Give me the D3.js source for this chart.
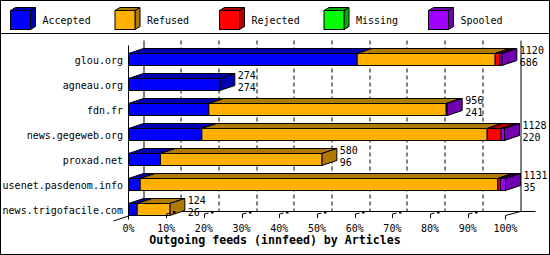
<!DOCTYPE html>
<html>
<head>
<meta charset="utf-8">
<script src="https://cdn.jsdelivr.net/npm/d3@7"></script>
<style>
  body { margin: 0; background: #fff; }
  svg text { font-family: "DejaVu Sans Mono", monospace; font-size: 10px; fill: #000; }
</style>
</head>
<body>
<div id="chart"></div>
<script>
// servers (y categories) and article counts per state
var servers = ["glou.org", "agneau.org", "fdn.fr", "news.gegeweb.org", "proxad.net", "usenet.pasdenom.info", "news.trigofacile.com"];
var accepted = [686, 274, 241, 220, 96, 35, 26];
var refused  = [414, 0, 712, 856, 484, 1073, 98];
var rejected = [14, 0, 0, 42, 0, 8, 0];
var missing  = [0, 0, 0, 0, 0, 0, 0];
var spooled  = [6, 0, 3, 10, 0, 15, 0];
var offered  = [1120, 274, 956, 1128, 580, 1131, 124];

var seriesNames = ["Accepted", "Refused", "Rejected", "Missing", "Spooled"];
var frontColors = ["#0000ff", "#ffb000", "#ff0000", "#00ff00", "#a000ff"];
var darkColors  = ["#0000b0", "#b07900", "#b00000", "#00b000", "#7000b0"];
var tickValues  = [0, 10, 20, 30, 40, 50, 60, 70, 80, 90, 100];
var xTitle = "Outgoing feeds (innfeed) by Articles";

var width = 550, height = 255;
var depthX = 15, depthY = 5;

var svg = d3.select("#chart").append("svg")
    .attr("width", width)
    .attr("height", height);

svg.append("rect")
    .attr("x", 0.5).attr("y", 0.5)
    .attr("width", width - 1).attr("height", height - 1)
    .attr("fill", "#fff").attr("stroke", "#000");

svg.append("line")
    .attr("x1", 0).attr("x2", width)
    .attr("y1", 33.5).attr("y2", 33.5)
    .attr("stroke", "#000");

// ---- legend
var legend = svg.append("g");
seriesNames.forEach(function(name, i) {
    var lx = 10.5 + i * 104.5, ly = 10.5, s = 20, sh = 19, dx = 5, dy = 3;
    var g = legend.append("g");
    g.append("polygon")
        .attr("points", [[lx, ly], [lx + s, ly], [lx + s + dx, ly - dy], [lx + dx, ly - dy]].join(" "))
        .attr("fill", darkColors[i]).attr("stroke", "#000");
    g.append("polygon")
        .attr("points", [[lx + s, ly], [lx + s + dx, ly - dy], [lx + s + dx, ly + sh - dy], [lx + s, ly + sh]].join(" "))
        .attr("fill", darkColors[i]).attr("stroke", "#000");
    g.append("rect")
        .attr("x", lx).attr("y", ly)
        .attr("width", s).attr("height", sh)
        .attr("fill", frontColors[i]).attr("stroke", "#000");
    g.append("text")
        .attr("x", lx + 32)
        .attr("y", 24)
        .text(name);
});

// ---- scales
var maxOffered = d3.max(offered);
var x = d3.scaleLinear().domain([0, 100]).range([128.5, 505.5]);
var y = d3.scaleBand().domain(servers).range([40.5, 215.5]).padding(0);
var barTop = function(d) { return y(d) + 13; };
var barH = 12;

var frontTop = 45.5, frontBottom = 216.5;
var backTop = frontTop - depthY, backBottom = frontBottom - depthY;

// ---- back walls / gridlines
var grid = svg.append("g");
grid.selectAll("line.grid")
    .data(tickValues)
    .enter().append("line")
    .attr("class", "grid")
    .attr("x1", function(d) { return Math.round(x(d) + depthX) - 0.5 + 0.5; })
    .attr("x2", function(d) { return Math.round(x(d) + depthX) - 0.5 + 0.5; })
    .attr("y1", backTop)
    .attr("y2", backBottom)
    .attr("stroke", "#000")
    .attr("stroke-dasharray", function(d) { return (d == 0 || d == 100) ? null : "4,3"; });

grid.append("line")
    .attr("x1", x(0) + depthX).attr("x2", x(100) + depthX + 15)
    .attr("y1", backBottom).attr("y2", backBottom)
    .attr("stroke", "#000");

// ---- bars
var table = servers.map(function(s, i) {
    return { server: s, Accepted: accepted[i], Refused: refused[i], Rejected: rejected[i],
             Missing: missing[i], Spooled: spooled[i] };
});
var stack = d3.stack().keys(seriesNames);
var stacked = stack(table);

var bars = svg.append("g");
servers.forEach(function(s, i) {
    stacked.forEach(function(layer, k) {
        var seg = layer[i];
        if (seg[1] - seg[0] <= 0) return;
        var x0 = x(seg[0] / maxOffered * 100), x1 = x(seg[1] / maxOffered * 100);
        var t = barTop(s), b = t + barH;
        var g = bars.append("g");
        g.append("polygon")
            .attr("points", [[x0, t], [x1, t], [x1 + depthX, t - depthY], [x0 + depthX, t - depthY]].join(" "))
            .attr("fill", darkColors[k]).attr("stroke", "#000");
        g.append("polygon")
            .attr("points", [[x1, t], [x1 + depthX, t - depthY], [x1 + depthX, b - depthY], [x1, b]].join(" "))
            .attr("fill", darkColors[k]).attr("stroke", "#000");
        g.append("rect")
            .attr("x", x0).attr("y", t)
            .attr("width", x1 - x0).attr("height", barH)
            .attr("fill", frontColors[k]).attr("stroke", "#000");
    });
});

// ---- value labels (offered / accepted)
var vals = svg.append("g");
servers.forEach(function(s, i) {
    var ex = x(offered[i] / maxOffered * 100) + 18;
    vals.append("text").attr("x", ex).attr("y", barTop(s)).text(offered[i]);
    vals.append("text").attr("x", ex).attr("y", barTop(s) + barH).text(accepted[i]);
});

// ---- category labels
svg.append("g").selectAll("text")
    .data(servers)
    .enter().append("text")
    .attr("x", 123)
    .attr("y", function(d) { return barTop(d) + barH / 2 + 4; })
    .attr("text-anchor", "end")
    .text(function(d) { return d; });

// ---- front axis
var axis = svg.append("g");
axis.append("line")
    .attr("x1", x(0)).attr("x2", x(0))
    .attr("y1", frontTop).attr("y2", frontBottom + 3)
    .attr("stroke", "#000");
axis.append("line")
    .attr("x1", x(0) - depthX).attr("x2", x(0))
    .attr("y1", frontBottom + 4.5).attr("y2", frontBottom - 0.5)
    .attr("stroke", "#000");
axis.append("line")
    .attr("x1", x(100)).attr("x2", x(100) + depthX)
    .attr("y1", frontBottom - 1).attr("y2", backBottom)
    .attr("stroke", "#000");
axis.append("line")
    .attr("x1", x(100)).attr("x2", x(100))
    .attr("y1", frontBottom - 1).attr("y2", frontBottom + 3)
    .attr("stroke", "#000");

var innerTicks = tickValues.filter(function(d) { return d > 0 && d < 100; });
innerTicks.forEach(function(d) {
    var tx = Math.round(x(d)) + 0.5;
    axis.append("line")
        .attr("x1", tx).attr("x2", tx)
        .attr("y1", frontBottom - 2.5).attr("y2", frontBottom + 1.5)
        .attr("stroke", "#000");
    axis.append("line")
        .attr("x1", tx).attr("x2", tx + 4)
        .attr("y1", frontBottom - 2.5).attr("y2", frontBottom - 3.5)
        .attr("stroke", "#000");
    axis.append("rect")
        .attr("x", tx + 6.5).attr("y", frontBottom - 5.5)
        .attr("width", 2.5).attr("height", 2.5)
        .attr("fill", "#000");
});

axis.selectAll("text.tick")
    .data(tickValues)
    .enter().append("text")
    .attr("class", "tick")
    .attr("x", function(d) { return x(d); })
    .attr("y", 231.5)
    .attr("text-anchor", "middle")
    .text(function(d) { return d + "%"; });

svg.append("text")
    .attr("x", 275)
    .attr("y", 244)
    .attr("text-anchor", "middle")
    .style("font-size", "11.6px")
    .style("font-weight", "bold")
    .text(xTitle);
</script>
</body>
</html>
